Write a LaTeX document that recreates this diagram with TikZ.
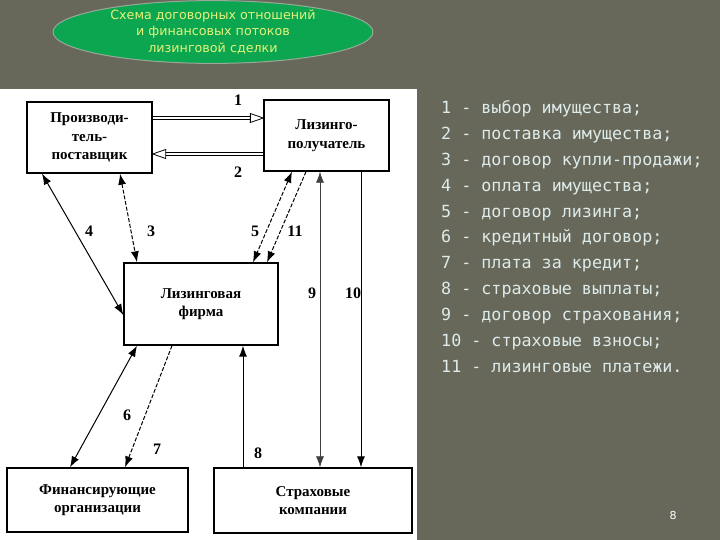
\documentclass[tikz,border=0pt]{standalone}
\usepackage{fontspec}
\setmainfont{Liberation Serif}
\newfontfamily\listfont{DejaVu Sans Mono}
\newfontfamily\ellfont{DejaVu Sans}
\usetikzlibrary{arrows.meta,calc,shapes.geometric}
\definecolor{bg}{HTML}{67685A}
\definecolor{ellg}{HTML}{0BA64F}
\definecolor{ellb}{HTML}{9AA89A}
\definecolor{elltext}{HTML}{E6F27A}
\definecolor{listc}{HTML}{DDEBEA}
\tikzset{
  box/.style={draw, line width=1.3pt, fill=white, align=center, inner sep=0pt,
    font=\bfseries\fontsize{15}{18.5}\selectfont},
  arr/.style={line width=1pt, -{Latex[length=11pt,width=8pt]}},
  darr/.style={line width=1pt, {Latex[length=11pt,width=8pt]}-{Latex[length=11pt,width=8pt]}},
  dsh/.style={dash pattern=on 4pt off 1.8pt},
  lbl/.style={font=\bfseries\fontsize{16}{16}\selectfont, inner sep=0pt},
  hollow/.style={line width=0.8pt},
  listline/.style={anchor=base west, inner sep=0pt, text=listc,
    font=\listfont\fontsize{16.7}{20}\selectfont},
}
\begin{document}
\begin{tikzpicture}[x=1pt,y=-1pt]
\fill[bg] (0,0) rectangle (720,540);
\useasboundingbox (0,0) rectangle (720,540);
% white scanned panel
\fill[white] (0,89) rectangle (417,540);

% title ellipse
\node[ellipse, draw=ellb, line width=1pt, fill=ellg, minimum width=320pt, minimum height=61pt,
  inner sep=0pt, align=center, text=elltext, font=\ellfont\fontsize{12.7}{16.5}\selectfont]
  (title) at (213,32) {Схема договорных отношений\\и финансовых потоков\\лизинговой сделки};

% boxes
\node[box, minimum width=125pt, minimum height=71pt] (pp) at (89.5,137.5) {Производи-\\тель-\\поставщик};
\node[box, minimum width=125pt, minimum height=71pt] (lp) at (326.5,135.5) {Лизинго-\\получатель};
\node[box, minimum width=154pt, minimum height=82pt] (lf) at (201,304) {Лизинговая\\фирма};
\node[box, minimum width=181pt, minimum height=64pt] (fo) at (97.5,500) {Финансирующие\\организации};
\node[box, minimum width=198pt, minimum height=65pt] (sk) at (313,500.5) {Страховые\\компании};

% hollow arrow 1 (pp -> lp)
\coordinate (a1s) at (pp.east |- 0,118);
\coordinate (a1e) at (lp.west |- 0,118);
\draw[hollow] ([yshift=1.7pt]a1s) -- ([xshift=-12pt,yshift=1.7pt]a1e);
\draw[hollow] ([yshift=-1.7pt]a1s) -- ([xshift=-12pt,yshift=-1.7pt]a1e);
\draw[hollow, fill=white] ([xshift=-13pt,yshift=4.5pt]a1e) -- (a1e) -- ([xshift=-13pt,yshift=-4.5pt]a1e) -- cycle;
% hollow arrow 2 (lp -> pp)
\coordinate (a2s) at (lp.west |- 0,154);
\coordinate (a2e) at (pp.east |- 0,154);
\draw[hollow] ([yshift=1.7pt]a2s) -- ([xshift=12pt,yshift=1.7pt]a2e);
\draw[hollow] ([yshift=-1.7pt]a2s) -- ([xshift=12pt,yshift=-1.7pt]a2e);
\draw[hollow, fill=white] ([xshift=13pt,yshift=4.5pt]a2e) -- (a2e) -- ([xshift=13pt,yshift=-4.5pt]a2e) -- cycle;

% other connectors
\draw[darr] (42,0 |- pp.south) -- (lf.west |- 0,315);          % 4
\draw[darr,dsh] (120,0 |- pp.south) -- (137,0 |- lf.north);    % 3
\draw[darr,dsh] (292,0 |- lp.south) -- (253,0 |- lf.north);    % 5
\draw[arr,dsh] (306,0 |- lp.south) -- (267,0 |- lf.north);     % 11
\draw[darr,line width=0.7pt,draw=black!75] (320,0 |- sk.north) -- (320,0 |- lp.south); % 9
\draw[arr] (361,0 |- lp.south) -- (361,0 |- sk.north);         % 10
\draw[arr] (243,0 |- sk.north) -- (243,0 |- lf.south);         % 8
\draw[darr] (137,0 |- lf.south) -- (70,0 |- fo.north);         % 6
\draw[arr,dsh] (172,0 |- lf.south) -- (125,0 |- fo.north);     % 7

% labels
\node[lbl] (n1) at (238,100) {1};
\node[lbl] (n2) at (238,172) {2};
\node[lbl] (n4) at (89,231) {4};
\node[lbl] (n3) at (151,231) {3};
\node[lbl] (n5) at (255,231) {5};
\node[lbl] (n11) at (295,231) {11};
\node[lbl] (n9) at (312,293) {9};
\node[lbl] (n10) at (353,293) {10};
\node[lbl] (n6) at (127,415) {6};
\node[lbl] (n7) at (157,449) {7};
\node[lbl] (n8) at (258,453) {8};

% legend list
\foreach \t [count=\i] in {
  {1 - выбор имущества;},
  {2 - поставка имущества;},
  {3 - договор купли-продажи;},
  {4 - оплата имущества;},
  {5 - договор лизинга;},
  {6 - кредитный договор;},
  {7 - плата за кредит;},
  {8 - страховые выплаты;},
  {9 - договор страхования;},
  {10 - страховые взносы;},
  {11 - лизинговые платежи.}}
  \node[listline] (li\i) at (441,{114+25.8*(\i-1)}) {\t};

% page number
\node[text=white, font=\ellfont\fontsize{11}{11}\selectfont] (pg) at (673,515) {8};
\end{tikzpicture}
\end{document}
